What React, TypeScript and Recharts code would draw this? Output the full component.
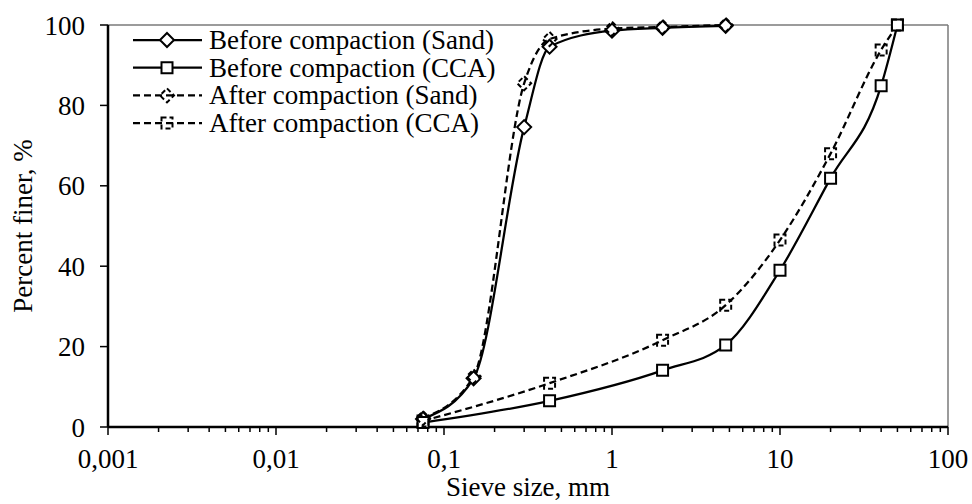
import { LineChart, Line, XAxis, YAxis, Legend, ReferenceLine } from 'recharts'

const font = "'Times New Roman', 'Liberation Serif', serif"

// sieve sizes (mm)
const sieveSand = [0.075, 0.15, 0.3, 0.425, 1, 2, 4.75]
const sieveCca = [0.075, 0.425, 2, 4.75, 10, 20, 40, 50]

// percent finer
const sandBefore = [2, 12.1, 74.6, 94.6, 98.6, 99.3, 99.8]
const sandAfter = [2.2, 12.6, 85.5, 96.5, 99.1, 99.5, 100]
const ccaBefore = [1.1, 6.5, 14.1, 20.4, 39, 61.9, 84.9, 100]
const ccaAfter = [1.5, 10.9, 21.6, 30.3, 46.5, 68, 93.8, 100]

const majorTicks = [0.001, 0.01, 0.1, 1, 10, 100]
const minorMult = [2, 3, 4, 5, 6, 7, 8, 9]
const yTicks = [0, 20, 40, 60, 80, 100]

const xTicks = [
  ...majorTicks,
  ...majorTicks.slice(0, -1).flatMap((d) => minorMult.map((m) => +(d * m).toPrecision(3))),
].sort((a, b) => a - b)

const toPts = (xs: number[], ys: number[]) => xs.map((x, i) => ({ x, y: ys[i] }))

const fmt = (v: number) => String(v).replace('.', ',')

function Marker({ cx, cy, shape, dashed }: { cx: number; cy: number; shape: 'diamond' | 'square'; dashed: boolean }) {
  const d =
    shape === 'diamond'
      ? `M${cx},${cy - 7}L${cx + 7},${cy}L${cx},${cy + 7}L${cx - 7},${cy}Z`
      : `M${cx - 5.5},${cy - 5.5}h11v11h-11Z`
  return (
    <path
      d={d}
      fill={dashed ? 'none' : '#fff'}
      stroke="#000"
      strokeWidth={2}
      strokeDasharray={dashed ? '5 3' : undefined}
    />
  )
}

const dotFor = (shape: 'diamond' | 'square', dashed: boolean) => (p: any) => (
  <g key={p.key ?? `${shape}-${dashed}-${p.index}`}>
    <Marker cx={p.cx} cy={p.cy} shape={shape} dashed={dashed} />
  </g>
)

const series = [
  { name: 'Before compaction (Sand)', data: toPts(sieveSand, sandBefore), shape: 'diamond' as const, dashed: false },
  { name: 'Before compaction (CCA)', data: toPts(sieveCca, ccaBefore), shape: 'square' as const, dashed: false },
  { name: 'After compaction (Sand)', data: toPts(sieveSand, sandAfter), shape: 'diamond' as const, dashed: true },
  { name: 'After compaction (CCA)', data: toPts(sieveCca, ccaAfter), shape: 'square' as const, dashed: true },
]

function XTick(props: any) {
  const { x, y, payload } = props
  const v = payload.value
  const major = majorTicks.includes(v)
  return (
    <g>
      <line x1={x} x2={x} y1={y} y2={y + (major ? 8 : 5)} stroke="#000" strokeWidth={1.5} />
      {major && (
        <text x={x} y={y + 41} textAnchor="middle" fontSize={27} fontFamily={font} fill="#000">
          {fmt(v)}
        </text>
      )}
    </g>
  )
}

function LegendBox() {
  return (
    <svg width={420} height={115}>
      {series.map((s, i) => {
        const cy = 14 + i * 27.7
        return (
          <g key={s.name}>
            <line x1={8} x2={77} y1={cy} y2={cy} stroke="#000" strokeWidth={2.25} strokeDasharray={s.dashed ? '7 4' : undefined} />
            <Marker cx={42} cy={cy} shape={s.shape} dashed={s.dashed} />
            <text x={84} y={cy} dominantBaseline="central" fontSize={27} fontFamily={font} fill="#000">
              {s.name}
            </text>
          </g>
        )
      })}
    </svg>
  )
}

export default function App() {
  return (
    <div style={{ position: 'absolute', left: 0, top: 0 }}>
      <LineChart width={972} height={504} margin={{ top: 25, right: 24, bottom: 0, left: 0 }}>
        <XAxis
          dataKey="x"
          type="number"
          scale="log"
          domain={[0.001, 100]}
          allowDataOverflow
          ticks={xTicks}
          interval={0}
          tick={<XTick />}
          tickLine={false}
          tickSize={0}
          tickMargin={0}
          height={77}
          axisLine={{ stroke: '#000', strokeWidth: 2.5 }}
          label={{ value: 'Sieve size, mm', position: 'insideBottom', offset: 8, fontSize: 27, fontFamily: font, fill: '#000' }}
        />
        <YAxis
          type="number"
          domain={[0, 100]}
          ticks={yTicks}
          width={108}
          tickSize={8}
          tickMargin={15}
          axisLine={{ stroke: '#000', strokeWidth: 2.5 }}
          tickLine={{ stroke: '#000', strokeWidth: 1.5 }}
          tick={{ fontSize: 27, fontFamily: font, fill: '#000' }}
          label={{
            content: (p: any) => {
              const vb = p.viewBox
              const cy = vb.y + vb.height / 2
              return (
                <text x={23} y={cy} transform={`rotate(-90 23 ${cy})`} textAnchor="middle" dominantBaseline="central" fontSize={27} fontFamily={font} fill="#000">
                  Percent finer, %
                </text>
              )
            },
          }}
        />
        <ReferenceLine y={100} stroke="#7a7a7a" strokeWidth={1.5} />
        <ReferenceLine x={100} stroke="#7a7a7a" strokeWidth={1.5} />
        {series.map((s) => (
          <Line
            key={s.name}
            name={s.name}
            data={s.data}
            dataKey="y"
            type="monotone"
            stroke="#000"
            strokeWidth={2.25}
            strokeDasharray={s.dashed ? '7 4' : undefined}
            dot={dotFor(s.shape, s.dashed)}
            activeDot={false}
            isAnimationActive={false}
          />
        ))}
        <Legend
          layout="horizontal"
          verticalAlign="middle"
          align="center"
          wrapperStyle={{ left: 125, top: 26, width: 420 }}
          content={() => <LegendBox />}
        />
      </LineChart>
    </div>
  )
}
